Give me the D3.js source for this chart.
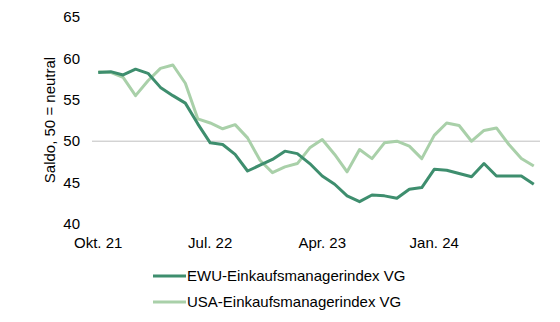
<!DOCTYPE html>
<html><head><meta charset="utf-8">
<script src="https://cdn.jsdelivr.net/npm/d3@7"></script>
<style>body{margin:0;background:#fff}svg{display:block}text{font-family:"Liberation Sans",Arial,sans-serif;fill:#000}</style>
</head><body><svg id="c" width="560" height="322"></svg>
<script>
const months = ["Okt. 21","Nov. 21","Dez. 21","Jan. 22","Feb. 22","Mrz. 22","Apr. 22","Mai. 22","Jun. 22","Jul. 22","Aug. 22","Sep. 22","Okt. 22","Nov. 22","Dez. 22","Jan. 23","Feb. 23","Mrz. 23","Apr. 23","Mai. 23","Jun. 23","Jul. 23","Aug. 23","Sep. 23","Okt. 23","Nov. 23","Dez. 23","Jan. 24","Feb. 24","Mrz. 24","Apr. 24","Mai. 24","Jun. 24","Jul. 24","Aug. 24","Sep. 24"];
const ewu = [58.3,58.4,58.0,58.7,58.2,56.5,55.5,54.6,52.1,49.8,49.6,48.4,46.4,47.1,47.8,48.8,48.5,47.3,45.8,44.8,43.4,42.7,43.5,43.4,43.1,44.2,44.4,46.6,46.5,46.1,45.7,47.3,45.8,45.8,45.8,44.8];
const usa = [58.4,58.3,57.7,55.5,57.3,58.8,59.2,57.0,52.7,52.2,51.5,52.0,50.4,47.7,46.2,46.9,47.3,49.2,50.2,48.4,46.3,49.0,47.9,49.8,50.0,49.4,47.9,50.7,52.2,51.9,50.0,51.3,51.6,49.6,47.9,47.0];
const yTicks = [40,45,50,55,60,65];
const xTickLabels = ["Okt. 21","Jul. 22","Apr. 23","Jan. 24"];
const seriesNames = ["EWU-Einkaufsmanagerindex VG","USA-Einkaufsmanagerindex VG"];
const colors = ["#3e8e6e","#a9d0a9"];

const svg = d3.select("#c");
const x = d3.scaleBand().domain(months).range([92,540]);
const y = d3.scaleLinear().domain([40,65]).range([224,17]);
const cx = d => x(d) + x.bandwidth()/2;

// gridline at 50
svg.append("line").attr("x1",92).attr("x2",540).attr("y1",y(50)).attr("y2",y(50))
  .attr("stroke","#bfbfbf").attr("stroke-width",1);

// y axis labels
svg.append("g").selectAll("text").data(yTicks).join("text")
  .attr("x",80).attr("y",d=>y(d)).attr("dy","0.35em").attr("text-anchor","end")
  .attr("font-size",15).text(d=>d);

// x axis labels
svg.append("g").selectAll("text").data(xTickLabels).join("text")
  .attr("x",d=>cx(d)).attr("y",248).attr("text-anchor","middle")
  .attr("font-size",15).text(d=>d);

// y title
svg.append("text").attr("transform","translate(55,120) rotate(-90)")
  .attr("text-anchor","middle").attr("font-size",15).text("Saldo, 50 = neutral");

const line = d3.line().x((d,i)=>cx(months[i])).y(d=>y(d));
[usa, ewu].forEach((s,k)=>{
  const ci = k===0 ? 1 : 0;
  svg.append("path").datum(s).attr("d",line).attr("fill","none")
    .attr("stroke",colors[ci]).attr("stroke-width",3).attr("stroke-linejoin","round");
});

// legend
const lg = svg.append("g");
seriesNames.forEach((n,i)=>{
  const yy = 276 + i*26;
  lg.append("line").attr("x1",153).attr("x2",186).attr("y1",yy).attr("y2",yy)
    .attr("stroke",colors[i]).attr("stroke-width",3);
  lg.append("text").attr("x",187).attr("y",yy).attr("dy","0.35em").attr("font-size",15).text(n);
});
</script></body></html>
